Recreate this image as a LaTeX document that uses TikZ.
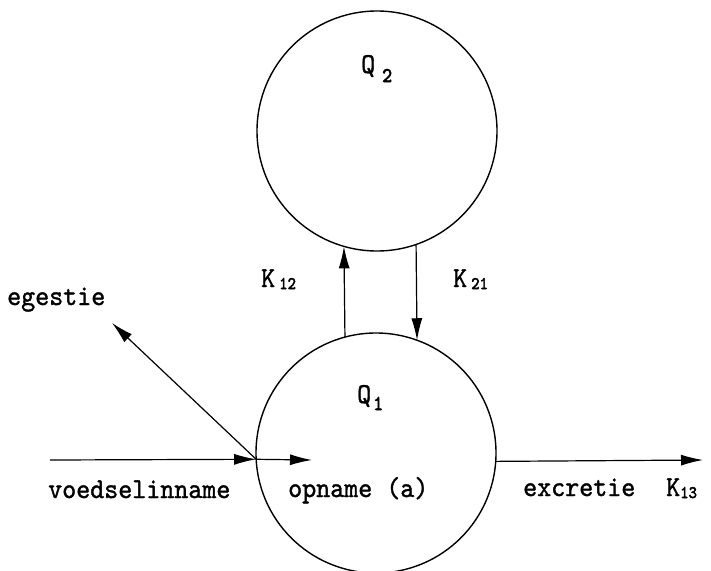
\documentclass[tikz,border=0pt]{standalone}
\usepackage{fontspec}
\usepackage{graphicx}
\usetikzlibrary{arrows.meta}
\newfontfamily\typew[FakeBold=1.3]{lmmono10-regular.otf}
\newfontfamily\typewb[FakeBold=3]{lmmono10-regular.otf}
\newcommand\tw[1]{\scalebox{1}[1.08]{#1}}
\newcommand\sbq[2]{\raisebox{#1}{\scalebox{1}[1.1]{\typewb\fontsize{19}{19}\selectfont #2}}}
\newcommand\sbk[1]{\raisebox{-2pt}{\scalebox{1}[1.1]{\typewb\fontsize{16}{16}\selectfont #1}}}
\begin{document}
\begin{tikzpicture}[x=1pt,y=-1pt,
  comp/.style={circle, draw, line width=1.4pt, minimum size=240pt, inner sep=0pt, outer sep=0pt},
  arr/.style={line width=1.2pt, -{Latex[length=22pt,width=11pt]}},
  lbl/.style={font=\typew\fontsize{26.7}{27}\selectfont, inner sep=0pt, anchor=base west}]
\useasboundingbox (0,0) rectangle (711,570);
\node[comp] (Q2) at (377,131) {};
\node[comp] (Q1) at (376,453) {};
% connectors between the compartments
\draw[arr] (Q1.105) -- (Q2.254.5);
\draw[arr] (Q2.289.47) -- (Q1.70.02);
% intake / egestion / excretion
\coordinate (vin) at (50,460);
\coordinate (ent) at (Q1.183.3);
\coordinate (opn) at (312,460);
\coordinate (egt) at (112,323);
\coordinate (exo) at (Q1.356.7);
\coordinate (ext) at (703,460);
\draw[arr] (vin) -- (ent);
\draw[arr] (ent) -- (opn);
\draw[arr] (ent) -- (egt);
\draw[arr] (exo) -- (ext);
% labels
\node[lbl] (q2L) at (361,73) {\tw{Q}\hspace{7pt}\sbq{-9pt}{2}};
\node[lbl] (q1L) at (357,403) {\tw{Q}\hspace{2pt}\sbq{-7pt}{1}};
\node[lbl] (k12L) at (261,287) {\tw{K}\hspace{4pt}\sbk{12}};
\node[lbl] (k21L) at (453,287) {\tw{K}\hspace{4pt}\sbk{21}};
\node[lbl] (egL) at (7,305) {\tw{egestie}};
\node[lbl] (voL) at (48,498) {\tw{voedselinname}};
\node[lbl] (opL) at (288,497) {\tw{opname (a)}};
\node[lbl] (exL) at (523,496) {\tw{excretie}};
\node[lbl] (k13L) at (666,496) {\tw{K}\sbk{13}};
\end{tikzpicture}
\end{document}
